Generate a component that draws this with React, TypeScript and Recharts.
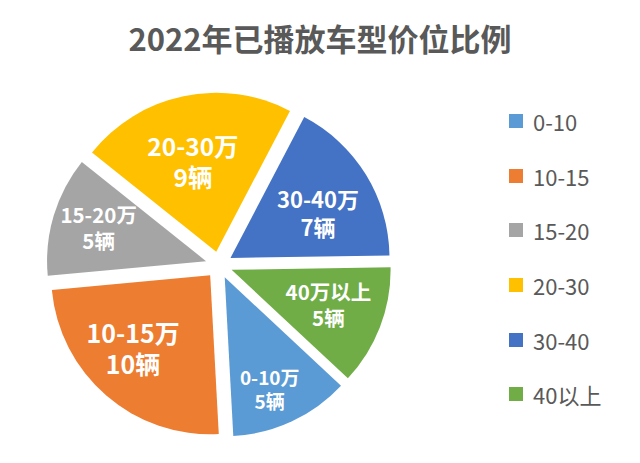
import { PieChart, Pie, Cell, Legend } from 'recharts';

const categories = ['0-10', '10-15', '15-20', '20-30', '30-40', '40以上'];
const sliceLabels = ['0-10万', '10-15万', '15-20万', '20-30万', '30-40万', '40万以上'];
const counts = [5, 10, 5, 9, 7, 5];
const colors = ['#5B9BD5', '#ED7D31', '#A5A5A5', '#FFC000', '#4472C4', '#70AD47'];
// Excel placed and sized the labels unevenly: distance (share of radius), angle nudge, font size
const labelRadius = [0.85, 0.76, 0.79, 0.66, 0.7, 0.735];
const labelTurn = [-3, -4.5, 0, 2.5, -4.5, 0.5];
const labelFont = [19, 25, 20.5, 24.5, 22, 20.5];

const data = categories.map((name, i) => ({ name, value: counts[i] }));

const START = -43;
const EXPLODE = 13.5;
const RAD = Math.PI / 180;
const total = counts.reduce((a, b) => a + b, 0);

// offset of each exploded slice along its bisector
const offsets = (() => {
  let cum = 0;
  return counts.map((v) => {
    const mid = START - ((cum + v / 2) / total) * 360;
    cum += v;
    return { dx: EXPLODE * Math.cos(mid * RAD), dy: -EXPLODE * Math.sin(mid * RAD) };
  });
})();

const renderLabel = (props: any) => {
  const { cx, cy, midAngle, outerRadius, index } = props;
  const r = outerRadius * labelRadius[index];
  const a = (midAngle + labelTurn[index]) * RAD;
  const x = cx + r * Math.cos(-a);
  const y = cy + r * Math.sin(-a);
  const fs = labelFont[index];
  const common = {
    x,
    textAnchor: 'middle' as const,
    fill: '#fff',
    fontSize: fs,
    fontWeight: 'bold',
    fontFamily: "'Noto Sans CJK SC', sans-serif",
  };
  return (
    <g>
      <text {...common} y={y - fs * 0.28}>{sliceLabels[index]}</text>
      <text {...common} y={y + fs * 0.97}>{counts[index]}辆</text>
    </g>
  );
};

const renderLegend = (props: any) => {
  const { payload } = props;
  return (
    <div>
      {payload.map((entry: any, i: number) => (
        <div
          key={i}
          style={{ display: 'flex', alignItems: 'center', height: 54.6 }}
        >
          <span style={{ width: 14, height: 14, background: entry.color, marginRight: 10 }} />
          <span style={{ fontSize: 22, color: '#595959' }}>{entry.value}</span>
        </div>
      ))}
    </div>
  );
};

export default function App() {
  return (
    <div style={{ position: 'absolute', left: 0, top: 0, fontFamily: "'Noto Sans CJK SC', sans-serif" }}>
      <PieChart width={640} height={463}>
        <text
          x={320}
          y={43}
          textAnchor="middle"
          dominantBaseline="middle"
          fontSize={31}
          fontWeight="bold"
          fill="#595959"
        >
          2022年已播放车型价位比例
        </text>
        <Pie
          data={data}
          dataKey="value"
          nameKey="name"
          cx={214}
          cy={260}
          outerRadius={159}
          startAngle={START}
          endAngle={START - 360}
          stroke="none"
          label={renderLabel}
          labelLine={false}
          isAnimationActive={false}
        >
          {data.map((d, i) => (
            <Cell
              key={d.name}
              fill={colors[i]}
              transform={`translate(${offsets[i].dx},${offsets[i].dy})`}
            />
          ))}
        </Pie>
        <Legend
          layout="vertical"
          content={renderLegend}
          wrapperStyle={{ left: 509, top: 94, width: 120 }}
        />
      </PieChart>
    </div>
  );
}
